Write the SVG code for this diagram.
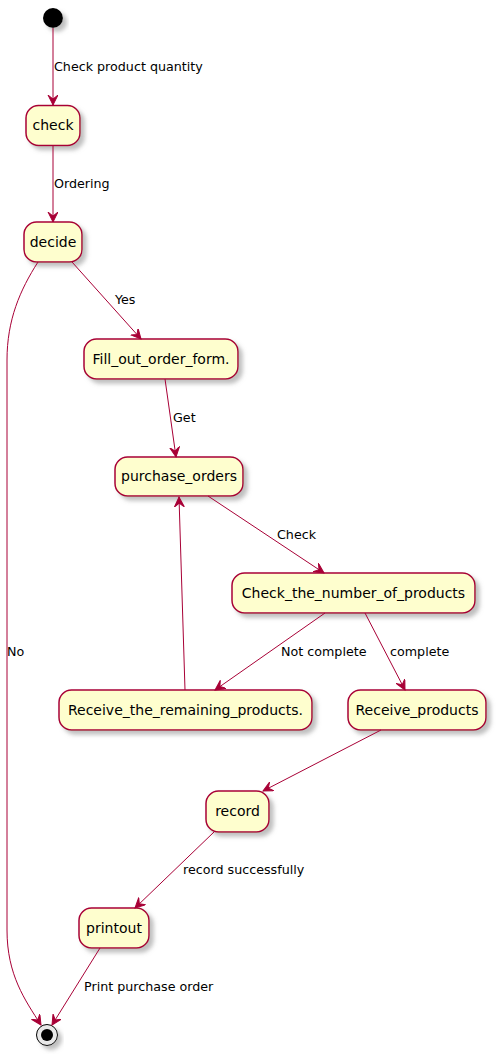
<svg xmlns="http://www.w3.org/2000/svg" width="496" height="1055" viewBox="0 0 496 1055">
<style>
.node{fill:#FEFECE;stroke:#A80036;stroke-width:1.5;filter:url(#sh)}
.nt{font-family:"DejaVu Sans",sans-serif;font-size:14px;fill:#000;text-anchor:middle}
.et{font-family:"DejaVu Sans",sans-serif;font-size:12.7px;fill:#000}
.edge{fill:none;stroke:#A80036;stroke-width:1}
</style>
<defs>
<filter id="sh" x="-20%" y="-20%" width="150%" height="160%">
<feGaussianBlur in="SourceAlpha" stdDeviation="2"/>
<feOffset dx="4" dy="4" result="b"/>
<feColorMatrix in="b" type="matrix" values="0 0 0 0 0.3  0 0 0 0 0.3  0 0 0 0 0.3  0 0 0 0.6 0"/>
<feMerge><feMergeNode/><feMergeNode in="SourceGraphic"/></feMerge>
</filter>
<marker id="ah" markerUnits="userSpaceOnUse" markerWidth="12" markerHeight="12" refX="10" refY="5" orient="auto">
<path d="M0,0 L10,5 L0,10 L4,5 Z" fill="#A80036" stroke="#A80036" stroke-width="1"/>
</marker>
</defs>
<g id="start"><circle cx="53" cy="18" r="10" fill="#000" filter="url(#sh)"/></g>
<g id="end"><circle cx="47" cy="1035" r="10.5" fill="#e8e8e8" stroke="#000" stroke-width="1" filter="url(#sh)"/><circle cx="47" cy="1035" r="6" fill="#000"/></g>
<g id="check"><rect class="node" x="26" y="105.5" width="54" height="40" rx="12.5"/><text class="nt" x="53" y="130">check</text></g>
<g id="decide"><rect class="node" x="24" y="222" width="58" height="40" rx="12.5"/><text class="nt" x="53" y="247">decide</text></g>
<g id="fill"><rect class="node" x="84" y="339" width="154" height="40" rx="12.5"/><text class="nt" x="161" y="364">Fill_out_order_form.</text></g>
<g id="purchase_orders"><rect class="node" x="115" y="457" width="128" height="39" rx="12.5"/><text class="nt" x="179" y="481">purchase_orders</text></g>
<g id="check_number"><rect class="node" x="232" y="573" width="243" height="40" rx="12.5"/><text class="nt" x="353.5" y="598">Check_the_number_of_products</text></g>
<g id="receive_remaining"><rect class="node" x="59" y="690" width="253" height="40" rx="12.5"/><text class="nt" x="185.5" y="715">Receive_the_remaining_products.</text></g>
<g id="receive_products"><rect class="node" x="348" y="690" width="138" height="40" rx="12.5"/><text class="nt" x="417" y="715">Receive_products</text></g>
<g id="record"><rect class="node" x="206" y="791" width="63" height="41" rx="12.5"/><text class="nt" x="237.5" y="816">record</text></g>
<g id="printout"><rect class="node" x="79" y="908" width="70" height="40" rx="12.5"/><text class="nt" x="114" y="933">printout</text></g>
<g id="connectors">
<path class="edge" d="M53,28 L53,105" marker-end="url(#ah)"/>
<text class="et" x="54" y="71">Check product quantity</text>
<path class="edge" d="M53,146 L53,222" marker-end="url(#ah)"/>
<text class="et" x="54" y="188">Ordering</text>
<path class="edge" d="M72,262 L141,339" marker-end="url(#ah)"/>
<text class="et" x="115" y="304">Yes</text>
<path class="edge" d="M38,262 C20,290 7,320 7,360 L7,930 C7,975 25,1000 41,1025" marker-end="url(#ah)"/>
<text class="et" x="7" y="656">No</text>
<path class="edge" d="M165,379 L176,457" marker-end="url(#ah)"/>
<text class="et" x="173" y="422">Get</text>
<path class="edge" d="M208,496 L324,573" marker-end="url(#ah)"/>
<text class="et" x="277" y="539">Check</text>
<path class="edge" d="M325,613 L215,690" marker-end="url(#ah)"/>
<text class="et" x="281" y="656">Not complete</text>
<path class="edge" d="M365,613 L405,690" marker-end="url(#ah)"/>
<text class="et" x="390" y="656">complete</text>
<path class="edge" d="M185,690 L179,497" marker-end="url(#ah)"/>
<path class="edge" d="M381,730 L263,791" marker-end="url(#ah)"/>
<path class="edge" d="M214,832 L135,908" marker-end="url(#ah)"/>
<text class="et" x="183" y="874">record successfully</text>
<path class="edge" d="M100,948 L52,1025" marker-end="url(#ah)"/>
<text class="et" x="84" y="991">Print purchase order</text>
</g>
</svg>
